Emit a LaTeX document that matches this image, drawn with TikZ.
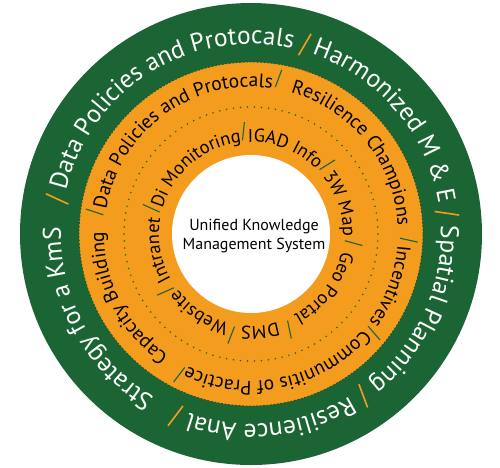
\documentclass[tikz,border=0pt]{standalone}
\usepackage{fontspec}
\setmainfont{PT Sans}
\usetikzlibrary{decorations.text}
\definecolor{kgreen}{HTML}{1B6535}
\definecolor{korange}{HTML}{F49C1E}
% #1 start angle, #2 end angle, #3 baseline radius, #4 format, #5 text
\newcommand\ringtext[5]{\path[decorate,decoration={text along path,text align=center,text={|#4|#5}}] (#1:#3) arc[start angle=#1,end angle=#2,radius=#3];}
% #1 angle, #2 inner radius, #3 outer radius, #4 tilt, #5 style
\newcommand\sepline[5]{\draw[#5] ({#1+#4}:#2) -- ({#1-#4}:#3);}
\begin{document}
\begin{tikzpicture}[x=1pt,y=1pt,
  gsep/.style={korange,line width=1.6pt},
  osep/.style={kgreen,line width=1.1pt},
  isep/.style={kgreen,line width=1.1pt}]
\useasboundingbox (-251,-233) rectangle (249,234);
\fill[kgreen] (0,0) circle[radius=231pt];
\fill[korange] (0,0) circle[radius=172pt];
\draw[kgreen!80!black,line width=0.8pt,dash pattern=on 2pt off 1.5pt] (0,0) circle[radius=172pt];
\draw[kgreen,line width=1.7pt,line cap=round,dash pattern=on 0pt off 7pt] (0,0) circle[radius=127pt];
\fill[white] (0,0) circle[radius=79pt];
\node[align=center,font=\fontsize{16}{19}\selectfont] (core) at (3,-2) {Unified Knowledge\\Management System};
% outer green ring
\ringtext{168}{76}{190pt}{\fontsize{25.5}{25.5}\selectfont\color{white}}{Data Policies and Protocals}
\ringtext{72.4}{7.9}{190pt}{\fontsize{25.5}{25.5}\selectfont\color{white}}{Harmonized M {\&} E}
\ringtext{4.3}{-53.4}{190pt}{\fontsize{25.5}{25.5}\selectfont\color{white}}{Spatial Planning}
\ringtext{-57}{-110.7}{190pt}{\fontsize{25.5}{25.5}\selectfont\color{white}}{Resilience Anal}
\ringtext{-114.3}{-188.4}{190pt}{\fontsize{25.5}{25.5}\selectfont\color{white}}{Strategy for a KmS}
\foreach \a in {169.8,74.2,6.1,-55.2,-112.5} {\sepline{\a}{185pt}{209pt}{0.9}{gsep}}
% outer orange ring
\ringtext{170.5}{81.5}{147pt}{\fontsize{19.5}{19.5}\selectfont\color{black}}{Data Policies and Protocals}
\ringtext{78.5}{-0.9}{147pt}{\fontsize{19.5}{19.5}\selectfont\color{black}}{Resilience Champions}
\ringtext{-3.6}{-37.4}{147pt}{\fontsize{19}{19}\selectfont\color{black}}{Incentives}
\ringtext{-40.4}{-115.5}{147pt}{\fontsize{19.5}{19.5}\selectfont\color{black}}{Communitis of Practice}
\ringtext{-118.5}{-186.5}{147pt}{\fontsize{19.5}{19.5}\selectfont\color{black}}{Capacity Building}
\foreach \a in {172,80,-2.2,-38.8,-117} {\sepline{\a}{149pt}{167pt}{0.6}{osep}}
% inner orange ring
\ringtext{163.1}{96.8}{92pt}{\fontsize{18.5}{18.5}\selectfont\color{black}}{Di Monitoring}
\ringtext{91.8}{44.8}{92pt}{\fontsize{18.5}{18.5}\selectfont\color{black}}{IGAD Info}
\ringtext{39.8}{-2.5}{92pt}{\fontsize{18.5}{18.5}\selectfont\color{black}}{3W Map}
\ringtext{-7.5}{-65.5}{92pt}{\fontsize{18.5}{18.5}\selectfont\color{black}}{Geo Portal}
\ringtext{-70.5}{-98.5}{92pt}{\fontsize{18.5}{18.5}\selectfont\color{black}}{DMS}
\ringtext{-103.5}{-143.5}{92pt}{\fontsize{18.5}{18.5}\selectfont\color{black}}{Website}
\ringtext{-148.5}{-191.9}{92pt}{\fontsize{18.5}{18.5}\selectfont\color{black}}{Intranet}
\foreach \a in {165.6,94.3,42.3,-5,-68,-101,-146} {\sepline{\a}{94pt}{112pt}{0.9}{isep}}
\end{tikzpicture}
\end{document}
